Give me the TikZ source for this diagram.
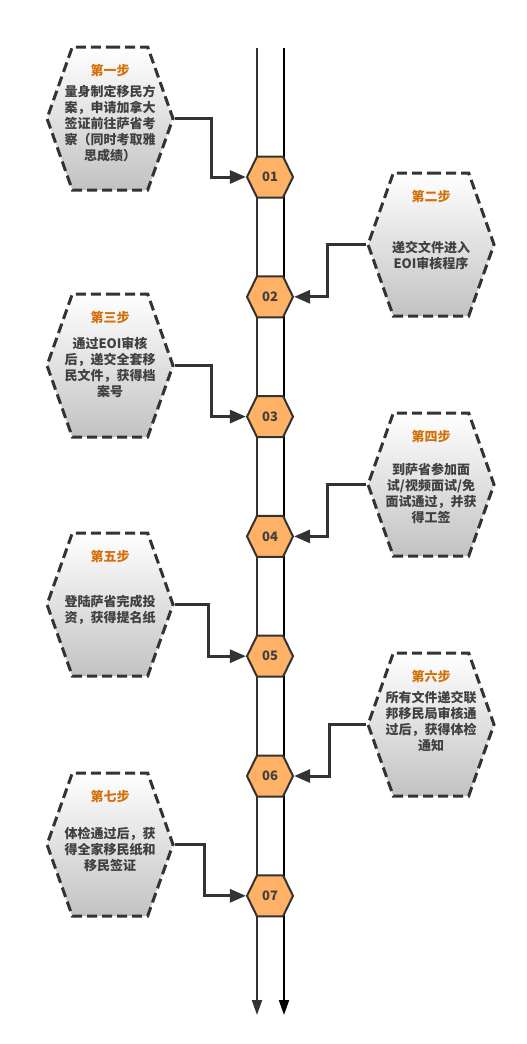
\documentclass[tikz,border=0pt]{standalone}
\usepackage{fontspec}
\setmainfont{Noto Sans CJK SC}
\usetikzlibrary{arrows.meta,shapes.symbols,positioning}
\definecolor{stepgray}{HTML}{333333}
\definecolor{steporange}{HTML}{D4700A}
\definecolor{numfill}{HTML}{FFB266}
\definecolor{shadegray}{HTML}{C2C2C2}
\definecolor{bodygray}{HTML}{404040}

\begin{document}
\begin{tikzpicture}[x=1pt,y=-1pt,font=\fontsize{13}{16}\selectfont\bfseries,
 stepbox/.style={signal,signal to=east and west,signal pointer angle=141,minimum width=126pt,minimum height=143pt,inner sep=0pt,
  top color=white,bottom color=shadegray,draw=stepgray,line width=3pt,dash pattern=on 10pt off 5pt},
 steptext/.style={text=bodygray,align=center,inner sep=0pt},
 numbox/.style={signal,signal to=east and west,signal pointer angle=128,minimum width=46pt,minimum height=41pt,inner sep=0pt,
  fill=numfill,draw=stepgray,line width=2pt,text=bodygray},
 steptitle/.style={text=steporange,inner sep=0pt},
 rail/.style={line width=2pt,-{Triangle[length=15pt,width=10pt]}},
 link/.style={line width=3pt,draw=stepgray,-{Triangle[length=16pt,width=13pt]}}]
\useasboundingbox (0,0) rectangle (527,1044);
% the two rails
\coordinate (railLtop) at (257,48);
\coordinate (railLend) at (257,1015);
\coordinate (railRtop) at (284,48);
\coordinate (railRend) at (284,1015);
\draw[rail,stepgray] (railLtop) -- (railLend);
\draw[rail,black] (railRtop) -- (railRend);
% numbered stops
\node[numbox] (n1) at (270,177) {01};
\node[numbox] (n2) at (270,296.8) {02};
\node[numbox] (n3) at (270,416.6) {03};
\node[numbox] (n4) at (270,536.4) {04};
\node[numbox] (n5) at (270,656.2) {05};
\node[numbox] (n6) at (270,776) {06};
\node[numbox] (n7) at (270,895.8) {07};
% steps
\node[stepbox] (s1) at (110,118.5) {};
\node[stepbox] (s2) at (431,244.5) {};
\node[stepbox] (s3) at (110,365.5) {};
\node[stepbox] (s4) at (431,484.5) {};
\node[stepbox] (s5) at (110,604.5) {};
\node[stepbox] (s6) at (431,724.5) {};
\node[stepbox] (s7) at (110,844.5) {};
\node[steptitle,below=19pt of s1.north] (t1) {第一步};
\node[steptitle,below=19pt of s2.north] (t2) {第二步};
\node[steptitle,below=19pt of s3.north] (t3) {第三步};
\node[steptitle,below=19pt of s4.north] (t4) {第四步};
\node[steptitle,below=19pt of s5.north] (t5) {第五步};
\node[steptitle,below=19pt of s6.north] (t6) {第六步};
\node[steptitle,below=19pt of s7.north] (t7) {第七步};
\node[steptext] (b1) at ([yshift=-5pt]s1.center) {量身制定移民方\\案，申请加拿大\\签证前往萨省考\\察（同时考取雅\\思成绩）};
\node[steptext] (b2) at ([yshift=-11pt]s2.center) {递交文件进入\\EOI审核程序};
\node[steptext] (b3) at ([yshift=-2pt]s3.center) {通过EOI审核\\后，递交全套移\\民文件，获得档\\案号};
\node[steptext] (b4) at ([yshift=-9pt]s4.center) {到萨省参加面\\试/视频面试/免\\面试通过，并获\\得工签};
\node[steptext] (b5) at ([yshift=-5pt]s5.center) {登陆萨省完成投\\资，获得提名纸};
\node[steptext] (b6) at ([yshift=3pt]s6.center) {所有文件递交联\\邦移民局审核通\\过后，获得体检\\通知};
\node[steptext] (b7) at ([yshift=-5pt]s7.center) {体检通过后，获\\得全家移民纸和\\移民签证};
% links
\draw[link] (s1.east) -- ++(37,0) |- (n1.west);
\draw[link] (s2.west) -- ++(-39,0) |- (n2.east);
\draw[link] (s3.east) -- ++(37,0) |- (n3.west);
\draw[link] (s4.west) -- ++(-39,0) |- (n4.east);
\draw[link] (s5.east) -- ++(34,0) |- (n5.west);
\draw[link] (s6.west) -- ++(-37,0) |- (n6.east);
\draw[link] (s7.east) -- ++(30,0) |- (n7.west);
\end{tikzpicture}
\end{document}
